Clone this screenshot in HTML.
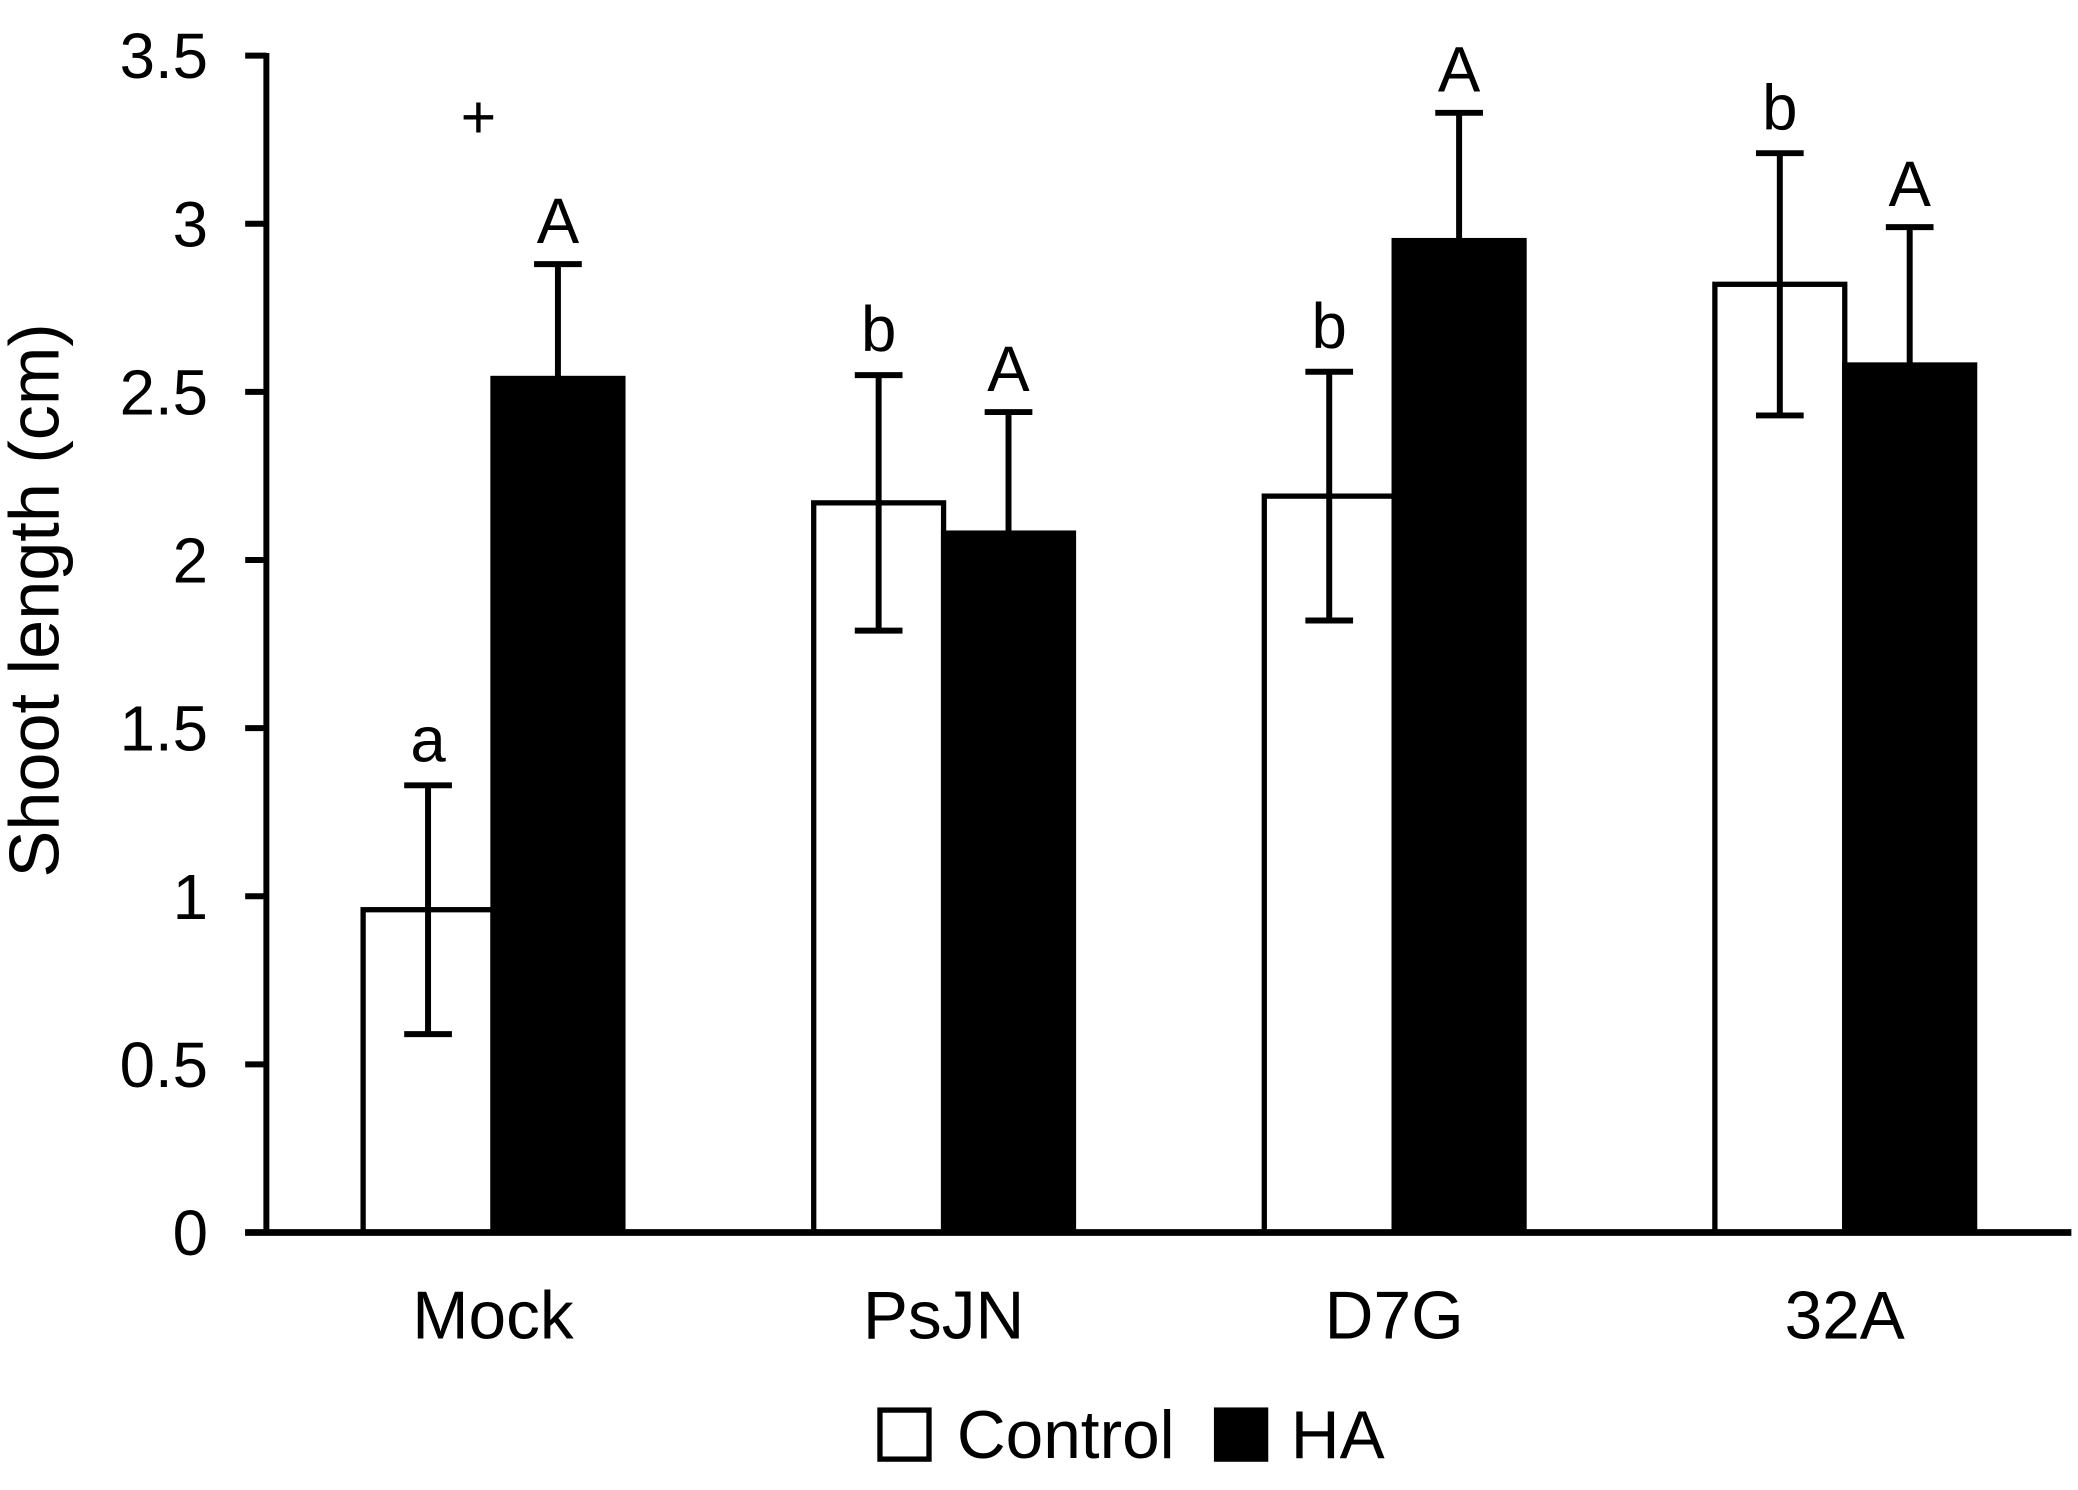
<!DOCTYPE html>
<html><head><meta charset="utf-8"><style>html,body{margin:0;padding:0;background:#fff}svg{display:block}text{font-family:"Liberation Sans",Arial,sans-serif;fill:#000}</style></head>
<body>
<svg id="chart" width="2078" height="1490" viewBox="0 0 1568 1124.3" preserveAspectRatio="none" xmlns="http://www.w3.org/2000/svg"></svg>
<script>
const categories = ["Mock","PsJN","D7G","32A"];
const controlValues = [0.96, 2.17, 2.19, 2.82];
const controlErr = [0.37, 0.38, 0.37, 0.39];
const haValues = [2.54, 2.08, 2.95, 2.58];
const haErr = [0.34, 0.36, 0.38, 0.41];
const controlLetters = ["a","b","b","b"];
const haLetters = ["A","A","A","A"];
const yTicks = [0,0.5,1,1.5,2,2.5,3,3.5];
const yTickLabels = ["0","0.5","1","1.5","2","2.5","3","3.5"];

const NS="http://www.w3.org/2000/svg";
const svg=document.getElementById('chart');
function el(t,a,txt){const e=document.createElementNS(NS,t);for(const k in a)e.setAttribute(k,a[k]);if(txt!==undefined)e.textContent=txt;svg.appendChild(e);return e;}
const y0=930, yTop=42, yMax=3.5;
function yS(v){return y0-(y0-yTop)*v/yMax;}
const groupX0=372, groupStep=340, barW=98;
function xC(i){return groupX0+groupStep*i;}

let ax=el('line',{x1:201,y1:40,x2:201,y2:932,stroke:'#000','stroke-width':4.5});


yTicks.forEach((t,i)=>{
  const tk=el('line',{x1:185,y1:yS(t),x2:201,y2:yS(t),stroke:'#000','stroke-width':4.5});
  
  
  const lb=el('text',{x:157,y:yS(t)+17,'text-anchor':'end','font-size':48},yTickLabels[i]);
  
  
});
const yt=el('text',{x:0,y:0,'text-anchor':'middle','font-size':53,transform:'translate(44,453) rotate(-90)'},'Shoot length (cm)');



categories.forEach((c,i)=>{
  const cx=xC(i);
  const cb=el('rect',{x:cx-barW,y:yS(controlValues[i]),width:barW,height:y0-yS(controlValues[i]),fill:'#fff',stroke:'#000','stroke-width':4});
  
  
  const hb=el('rect',{x:cx,y:yS(haValues[i]),width:barW,height:y0-yS(haValues[i]),fill:'#000',stroke:'#000','stroke-width':4});
  
  
  const ex=cx-barW/2, hi=yS(controlValues[i]+controlErr[i]), lo=yS(controlValues[i]-controlErr[i]);
  const e1=el('path',{d:`M${ex},${hi}V${lo}M${ex-18},${hi}H${ex+18}M${ex-18},${lo}H${ex+18}`,stroke:'#000','stroke-width':4.5,fill:'none'});
  
  
  const hx=cx+barW/2, hh=yS(haValues[i]+haErr[i]);
  const e2=el('path',{d:`M${hx},${hh}V${yS(haValues[i])}M${hx-18},${hh}H${hx+18}`,stroke:'#000','stroke-width':4.5,fill:'none'});
  
  
  const l1=el('text',{x:ex,y:hi-18,'text-anchor':'middle','font-size':48},controlLetters[i]);
  
  
  const l2=el('text',{x:hx,y:hh-16,'text-anchor':'middle','font-size':48},haLetters[i]);
  
  
  const cl=el('text',{x:cx,y:1010,'text-anchor':'middle','font-size':51},c);
  
  
});
const plus=el('text',{x:361,y:104,'text-anchor':'middle','font-size':46},'+');



const xa=el('line',{x1:185,y1:930,x2:1563,y2:930,stroke:'#000','stroke-width':5});



const lg1=el('rect',{x:664,y:1064,width:37,height:37,fill:'#fff',stroke:'#000','stroke-width':4});


const lt1=el('text',{x:722,y:1100,'font-size':51},'Control');


const lg2=el('rect',{x:916,y:1062,width:41,height:41,fill:'#000'});


const lt2=el('text',{x:974,y:1100,'font-size':51},'HA');


</script>
</body></html>
